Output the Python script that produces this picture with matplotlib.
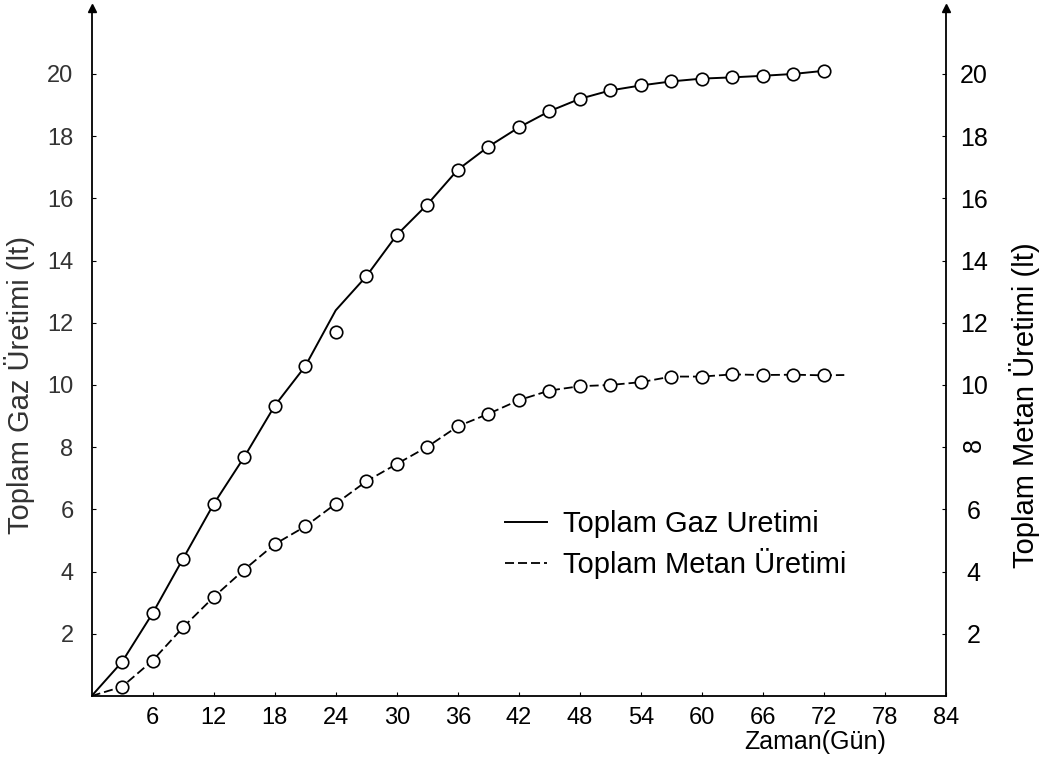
import matplotlib
matplotlib.use('Agg')
import matplotlib.pyplot as plt
from matplotlib.lines import Line2D

plt.rcParams['font.family'] = ['Liberation Sans Narrow', 'Liberation Sans', 'DejaVu Sans']

# sampling days (every 3 days)
days = [3, 6, 9, 12, 15, 18, 21, 24, 27, 30, 33, 36, 39, 42, 45, 48, 51, 54, 57, 60, 63, 66, 69, 72]
# measured points, total gas (lt, left axis)
gas_pts = [1.10, 2.66, 4.42, 6.17, 7.68, 9.33, 10.60, 11.70, 13.49, 14.82, 15.80, 16.92,
           17.66, 18.28, 18.80, 19.20, 19.47, 19.63, 19.76, 19.85, 19.89, 19.94, 20.00, 20.10]
# measured points, total methane (lt, right axis)
metan_pts = [0.30, 1.14, 2.21, 3.18, 4.06, 4.88, 5.45, 6.18, 6.90, 7.46, 8.01, 8.67,
             9.07, 9.51, 9.82, 9.96, 10.00, 10.09, 10.27, 10.27, 10.34, 10.32, 10.33, 10.31]

# the drawn curves (from the origin; gas curve passes above the day 24 point)
gas_curve_days = [0, 3, 6, 9, 12, 15, 18, 21, 24, 27, 30, 33, 36, 39, 42, 45, 48, 51, 54, 57, 60, 63, 66, 69, 72]
gas_curve = [0, 1.10, 2.66, 4.42, 6.17, 7.68, 9.33, 10.60, 12.40, 13.49, 14.82, 15.80, 16.92,
             17.66, 18.28, 18.80, 19.20, 19.47, 19.63, 19.76, 19.85, 19.89, 19.94, 20.00, 20.10]
metan_curve_days = [0, 3, 6, 9, 12, 15, 18, 21, 24, 27, 30, 33, 36, 39, 42, 45, 48, 51, 54, 57, 60, 63, 66, 69, 72, 74]
metan_curve = [0, 0.30, 1.14, 2.21, 3.18, 4.06, 4.88, 5.45, 6.18, 6.90, 7.46, 8.01, 8.67,
               9.07, 9.51, 9.82, 9.96, 10.00, 10.09, 10.27, 10.27, 10.34, 10.32, 10.33, 10.31, 10.32]

x_ticks = [6, 12, 18, 24, 30, 36, 42, 48, 54, 60, 66, 72, 78, 84]
y_ticks = [2, 4, 6, 8, 10, 12, 14, 16, 18, 20]

W, H = 1049, 773
fig = plt.figure(figsize=(W / 100, H / 100), dpi=100)
ax = fig.add_axes([91.6 / W, (H - 696) / H, 854.4 / W, 688 / H])
ax2 = ax.twinx()

dash = (0, (5, 2.2))

ax.plot(gas_curve_days, gas_curve, color='k', lw=1.4, zorder=2)
ax.plot(days, gas_pts, ls='none', marker='o', ms=9, mfc='white', mec='k', mew=1.2, zorder=3)
ax2.plot(metan_curve_days, metan_curve, color='k', lw=1.3, ls=dash, zorder=2)
ax2.plot(days, metan_pts, ls='none', marker='o', ms=9, mfc='white', mec='k', mew=1.2, zorder=3)

ax.set_xlim(0, 84)
ax.set_ylim(0, 22.12)
ax2.set_ylim(0, 22.12)

ax.set_xticks(x_ticks)
ax.set_yticks(y_ticks)
ax2.set_yticks(y_ticks)

for a in (ax, ax2):
    a.spines['top'].set_visible(False)
    for s in a.spines.values():
        s.set_linewidth(1.3)
ax.spines['right'].set_visible(False)
ax2.spines['left'].set_visible(False)
ax2.spines['bottom'].set_visible(False)

ax.tick_params(axis='x', direction='in', length=3, width=0.8, labelsize=17, pad=8)
ax.tick_params(axis='y', direction='in', length=3, width=0.8, labelsize=17, pad=13,
               labelcolor='#333333')
ax2.tick_params(axis='y', direction='in', length=3, width=0.8, labelsize=18, pad=20)
for t in ax2.yaxis.get_major_ticks():
    t.label2.set_horizontalalignment('center')
    if t.label2.get_text() == '8':
        t.label2.set_rotation(90)
for lab in ax2.get_yticklabels():
    lab.set_horizontalalignment('center')
    if lab.get_text() == '8':
        lab.set_rotation(90)

# arrow tips on the vertical axes
ax.plot([0], [1], marker='^', color='k', ms=6, transform=ax.transAxes, clip_on=False)
ax2.plot([1], [1], marker='^', color='k', ms=6, transform=ax2.transAxes, clip_on=False)

fig.text(20 / W, 1 - 385 / H, 'Toplam Gaz Üretimi (lt)', rotation=90, fontsize=21,
         ha='center', va='center', color='#333333')
fig.text(1025 / W, 1 - 405 / H, 'Toplam Metan Üretimi (lt)', rotation=90, fontsize=21,
         ha='center', va='center')
fig.text(815 / W, 1 - 742 / H, 'Zaman(Gün)', fontsize=18, ha='center', va='center')

handles = [Line2D([], [], color='k', lw=1.4), Line2D([], [], color='k', lw=1.3, ls=dash)]
ax2.legend(handles, ['Toplam Gaz Uretimi', 'Toplam Metan Üretimi'], loc='upper left',
           bbox_to_anchor=(505 / W, 1 - 510 / H), bbox_transform=fig.transFigure,
           frameon=False, fontsize=21, handlelength=1.45, handletextpad=0.55,
           labelspacing=0.35, borderpad=0, borderaxespad=0)

fig.savefig('out.png', dpi=100)
